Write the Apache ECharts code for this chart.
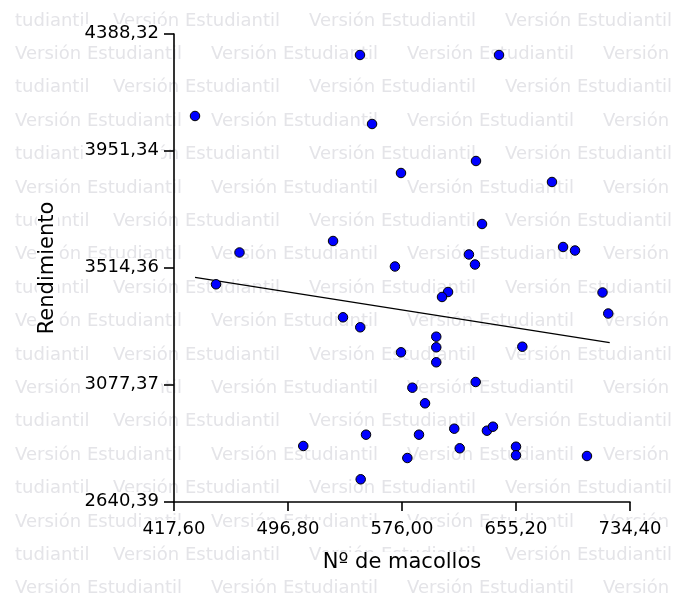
<!DOCTYPE html>
<html>
<head>
<meta charset="utf-8">
<script src="https://cdn.jsdelivr.net/npm/echarts@6/dist/echarts.min.js"></script>
<style>
html,body{margin:0;padding:0;background:#fff;}
#chart{width:673px;height:597px;}
</style>
</head>
<body>
<div id="chart"></div>
<script>
// Data
const macollos = [432.2, 546.8, 643.4, 555.2, 627.4, 575.3, 680.2, 631.6, 528.1, 687.9,
  696.2, 622.5, 626.7, 571.1, 463.1, 446.8, 608.0, 603.8, 715.3, 719.3,
  535.0, 547.0, 599.8, 599.8, 575.3, 659.6, 599.8, 627.2, 583.2, 592.0,
  551.0, 587.8, 612.3, 635.0, 639.2, 616.1, 655.2, 655.2, 579.7, 704.5,
  547.3, 507.4];
const rendimiento = [4082.1, 4309.9, 4309.9, 4052.2, 3914.0, 3869.2, 3835.6, 3678.7, 3615.2, 3592.8,
  3579.7, 3564.8, 3527.4, 3520.0, 3572.3, 3453.5, 3424.7, 3406.1, 3422.9, 3344.4,
  3330.2, 3292.9, 3257.8, 3218.2, 3199.5, 3220.4, 3162.2, 3088.6, 3067.3, 3009.0,
  2891.8, 2891.8, 2914.2, 2906.7, 2921.6, 2841.0, 2846.9, 2814.8, 2804.7, 2812.2,
  2725.2, 2849.6];
const regX = [432.2, 720.3];
const regY = [3479.6, 3235.4];
const xTicks = [417.60, 496.80, 576.00, 655.20, 734.40];
const yTicks = [2640.39, 3077.37, 3514.36, 3951.34, 4388.32];
const xTitle = 'Nº de macollos';
const yTitle = 'Rendimiento';
const watermarkWord = 'Versión Estudiantil';
const watermarkTail = 'tudiantil';

const fmt = v => Number(v).toFixed(2).replace('.', ',');
const FONT = 'DejaVu Sans';
const WM_FONT = '18px "' + FONT + '"';
const WM_COLOR = '#e4e4e8';

// watermark text grid (background decoration)
const wm = [];
function wmText(x, y, t) {
  wm.push({type:'text', x:x, y:y, z:-10, silent:true,
    style:{text:t, font:WM_FONT, fill:WM_COLOR, textVerticalAlign:'middle'}});
}
for (let r = 0; r < 18; r++) {
  const y = 21 + r * 33.4;
  if (r % 2 === 0) {
    wmText(15, y, watermarkTail);
    for (let c = 0; c < 3; c++) wmText(113 + c*196, y, watermarkWord);
  } else {
    for (let c = 0; c < 4; c++) wmText(15 + c*196, y, watermarkWord);
  }
}

const chart = echarts.init(document.getElementById('chart'), null, {renderer:'canvas'});
chart.setOption({
  animation: false,
  backgroundColor: '#ffffff',
  graphic: wm,
  grid: {left:174, right:43, top:34, bottom:95, containLabel:false},
  xAxis: {
    type:'value', min:xTicks[0], max:xTicks[xTicks.length-1],
    name:xTitle, nameLocation:'middle', nameGap:50,
    nameTextStyle:{fontFamily:FONT, fontSize:21, color:'#000', backgroundColor:'#fff', padding:[0,3]},
    axisLine:{show:true, onZero:false, lineStyle:{color:'#000', width:1.6}},
    axisTick:{show:true, length:9, customValues:xTicks, lineStyle:{color:'#000', width:1.6}},
    axisLabel:{customValues:xTicks, formatter:fmt, fontFamily:FONT, fontSize:18, color:'#000', margin:18,
      backgroundColor:'#fff', padding:[0,2]},
    splitLine:{show:false}
  },
  yAxis: {
    type:'value', min:yTicks[0], max:yTicks[yTicks.length-1],
    name:yTitle, nameLocation:'middle', nameGap:116, nameRotate:90,
    nameTextStyle:{fontFamily:FONT, fontSize:21, color:'#000', backgroundColor:'#fff', padding:[0,3]},
    axisLine:{show:true, onZero:false, lineStyle:{color:'#000', width:1.6}},
    axisTick:{show:true, length:10, customValues:yTicks, lineStyle:{color:'#000', width:1.6}},
    axisLabel:{customValues:yTicks, formatter: v => '{t|' + fmt(v) + '}', margin:13,
      rich:{t:{fontFamily:FONT, fontSize:18, color:'#000', backgroundColor:'#fff', padding:[0,2], lineHeight:20, verticalAlign:'top'}},
      verticalAlign:'middle', lineHeight:14},
    splitLine:{show:false}
  },
  series: [
    {
      type:'line', data: regX.map((x,i)=>[x, regY[i]]), symbol:'none',
      lineStyle:{color:'#000', width:1.3}, z:2, silent:true
    },
    {
      type:'scatter', data: macollos.map((x,i)=>[x, rendimiento[i]]),
      symbol:'circle', symbolSize:9.5,
      itemStyle:{color:'#0000ff', borderColor:'#000', borderWidth:1, opacity:1}, z:3
    }
  ]
});
</script>
</body>
</html>
